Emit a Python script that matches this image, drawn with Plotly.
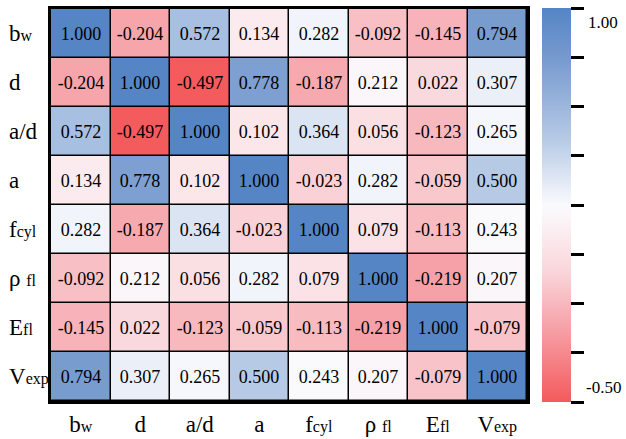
import plotly.graph_objects as go
import numpy as np

labels = ["bw", "d", "a/d", "a", "fcyl", "rfl", "Efl", "Vexp"]
label_text = [
    "b<span style='font-size:16px'>w</span>",
    "d",
    "a/d",
    "a",
    "f<span style='font-size:16px'>cyl</span>",
    "ρ <span style='font-size:16px'>fl</span>",
    "E<span style='font-size:16px'>fl</span>",
    "V<span style='font-size:16px'>exp</span>",
]

row_bw   = [1.000, -0.204, 0.572, 0.134, 0.282, -0.092, -0.145, 0.794]
row_d    = [-0.204, 1.000, -0.497, 0.778, -0.187, 0.212, 0.022, 0.307]
row_ad   = [0.572, -0.497, 1.000, 0.102, 0.364, 0.056, -0.123, 0.265]
row_a    = [0.134, 0.778, 0.102, 1.000, -0.023, 0.282, -0.059, 0.500]
row_fcyl = [0.282, -0.187, 0.364, -0.023, 1.000, 0.079, -0.113, 0.243]
row_rfl  = [-0.092, 0.212, 0.056, 0.282, 0.079, 1.000, -0.219, 0.207]
row_efl  = [-0.145, 0.022, -0.123, -0.059, -0.113, -0.219, 1.000, -0.079]
row_vexp = [0.794, 0.307, 0.265, 0.500, 0.243, 0.207, -0.079, 1.000]
matrix = [row_bw, row_d, row_ad, row_a, row_fcyl, row_rfl, row_efl, row_vexp]

zmin, zmax = -0.5, 1.0
cbar_ticks = list(np.linspace(zmin, zmax, 9))
cbar_labels = ["1.00", "-0.50"]

colorscale = [
    [0.0, "rgb(244,90,92)"],
    [0.2, "rgb(246,166,172)"],
    [0.333, "rgb(250,214,219)"],
    [0.467, "rgb(251,245,248)"],
    [0.5, "rgb(250,250,253)"],
    [0.667, "rgb(182,202,230)"],
    [0.867, "rgb(120,155,207)"],
    [1.0, "rgb(85,133,197)"],
]

serif = "Liberation Serif, Times New Roman, serif"

fig = go.Figure(go.Heatmap(
    z=matrix, x=labels, y=labels,
    zmin=zmin, zmax=zmax, colorscale=colorscale,
    xgap=1.5, ygap=1.5,
    texttemplate="%{z:.3f}",
    textfont=dict(family=serif, size=18, color="black"),
    colorbar=dict(
        x=(542 - 51) / 476, xanchor="left", xpad=0,
        y=0.5, yanchor="middle", ypad=0,
        thickness=29, len=394, lenmode="pixels",
        outlinewidth=0,
        tickvals=cbar_ticks, ticktext=[""] * len(cbar_ticks),
        ticks="outside", ticklen=13, tickwidth=2.5, tickcolor="black",
    ),
))

annotations = []
for lab, txt in zip(labels, label_text):
    annotations.append(dict(
        x=(7 - 51) / 476, xref="paper", xanchor="left",
        y=lab, yref="y", yanchor="middle",
        text=txt, showarrow=False,
        font=dict(family=serif, size=23, color="black"),
    ))
annotations.append(dict(x=(586 - 51) / 476, xref="paper", xanchor="left",
                        y=(401 - 22) / 392, yref="paper", yanchor="middle",
                        text=cbar_labels[0], showarrow=False,
                        font=dict(family=serif, size=17, color="black")))
annotations.append(dict(x=(584 - 51) / 476, xref="paper", xanchor="left",
                        y=(401 - 387) / 392, yref="paper", yanchor="middle",
                        text=cbar_labels[1], showarrow=False,
                        font=dict(family=serif, size=17, color="black")))

fig.update_layout(
    width=626, height=439,
    margin=dict(l=51, r=99, t=9, b=38),
    paper_bgcolor="white", plot_bgcolor="black",
    annotations=annotations,
    xaxis=dict(tickvals=labels, ticktext=label_text, ticks="",
               tickfont=dict(family=serif, size=23, color="black"),
               showline=True, mirror=True, linecolor="black", linewidth=3,
               showgrid=False, zeroline=False, ticklabelstandoff=0,
               automargin=False),
    yaxis=dict(autorange="reversed", showticklabels=False, ticks="",
               showline=True, mirror=True, linecolor="black", linewidth=3,
               showgrid=False, zeroline=False, automargin=False),
)

fig.write_html("out.html", config={"displayModeBar": False},
               post_script="document.body.style.margin='0';document.body.style.padding='0';")
